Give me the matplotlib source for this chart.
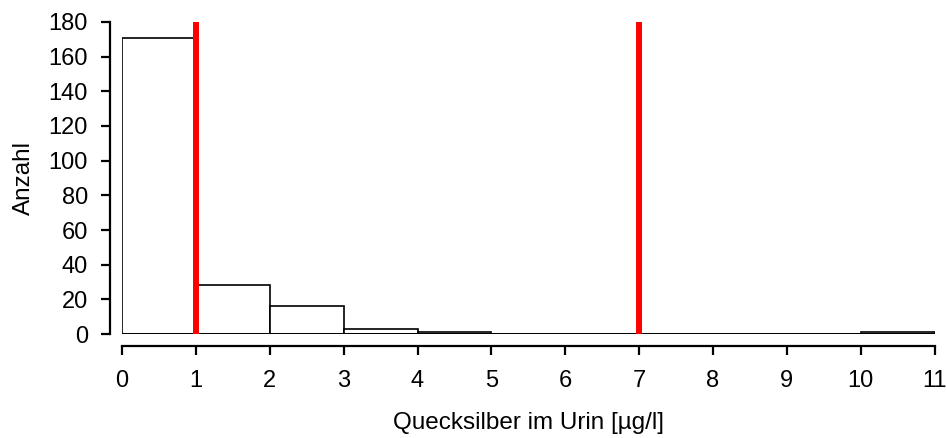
import matplotlib
matplotlib.use('Agg')

import numpy as np
from matplotlib import pyplot as plt

# histogram of mercury in urine, bins of 1 ug/l
bin_edges = np.arange(0, 12, 1)
counts = [171, 28, 16, 3, 1, 0, 0, 0, 0, 0, 1]
ref_lines = [1, 7]   # reference values in ug/l

plt.rcParams['font.family'] = ['Liberation Sans', 'DejaVu Sans']

fig = plt.figure(figsize=(9.46, 4.38), dpi=100)
ax = fig.add_axes([0.129, 0.2374, 0.859, 0.7124])

ax.bar(bin_edges[:-1], counts, width=1, align='edge',
       facecolor='white', edgecolor='black', linewidth=1.2, zorder=2)
# empty bins still show their bottom edge
ax.hlines(0, bin_edges[0], bin_edges[-1], color='black', linewidth=1.4, zorder=2)
for x in ref_lines:
    ax.axvline(x, color='#ff0000', linewidth=4.3, zorder=3,
               solid_capstyle='butt')

ax.set_xlim(0, 11)
ax.set_ylim(0, 180)
ax.set_xticks(range(0, 12))
ax.set_yticks(range(0, 181, 20))

for side in ['top', 'right']:
    ax.spines[side].set_visible(False)
for side in ['left', 'bottom']:
    ax.spines[side].set_position(('outward', 8.6))
    ax.spines[side].set_linewidth(1.6)
ax.tick_params(width=1.6, length=6.5, labelsize=17)
ax.tick_params(axis='y', pad=9.4)
ax.tick_params(axis='x', pad=11)

ax.set_xlabel('Quecksilber im Urin [µg/l]', fontsize=17.5, labelpad=14)
ax.set_ylabel('Anzahl', fontsize=17.5, labelpad=10)

plt.savefig('out.png', dpi=100)
